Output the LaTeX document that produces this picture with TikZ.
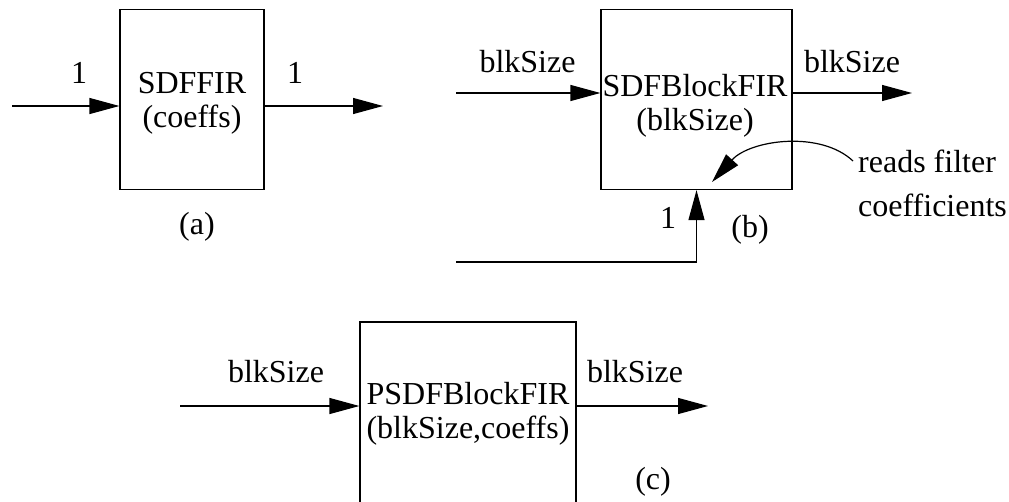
\documentclass[tikz,border=0pt]{standalone}
\usepackage{fontspec}
\setmainfont{Liberation Serif}
\usetikzlibrary{arrows.meta}
\tikzset{
  blkbox/.style={draw=black, line width=1.2pt, inner sep=0pt},
  flow/.style={draw=black, line width=1.2pt, -{Triangle[length=30pt,width=16pt]}},
}
\begin{document}
\begin{tikzpicture}[x=1pt,y=-1pt,font=\fontsize{32}{34}\selectfont]
\tikzstyle{every node}+=[inner sep=0pt]
\useasboundingbox (0,0) rectangle (1009,501);
\clip (0,0) rectangle (1009,501);
%(a)
\node [blkbox, minimum width=144pt, minimum height=180pt] (sdffir) at (192,99.5) {};
\node [align=center] (sdffirtxt) at (192,103.5) {SDFFIR\\(coeffs)};
\coordinate (ainsrc) at (12,106);
\coordinate (aoutdst) at (383,106);
\draw [flow] (ainsrc) -- (ainsrc -| sdffir.west);
\draw [flow] (ainsrc -| sdffir.east) -- (aoutdst);
\node (ainrate) at (79,73) {1};
\node (aoutrate) at (295,73) {1};
\node (alabel) at (197,227) {(a)};
%(b)
\node [blkbox, minimum width=191pt, minimum height=180pt] (sdfblk) at (696.5,99.5) {};
\node [align=center] (sdfblktxt) at (695,106) {SDFBlockFIR\\(blkSize)};
\coordinate (binsrc) at (456,93);
\coordinate (boutdst) at (912,93);
\coordinate (bcoefsrc) at (456,262);
\draw [flow] (binsrc) -- (binsrc -| sdfblk.west);
\draw [flow] (binsrc -| sdfblk.east) -- (boutdst);
\draw [flow] (bcoefsrc) -| (sdfblk.south);
\node (binrate) at (527.5,62) {blkSize};
\node (boutrate) at (852,62) {blkSize};
\node (bcoefrate) at (668,218) {1};
\node (blabel) at (750,230) {(b)};
\node [anchor=west] (readsa) at (858,161) {reads filter};
\node [anchor=west] (readsb) at (858,205) {coefficients};
\coordinate (readtip) at (712,182);
\draw [flow] ([xshift=-5pt]readsa.west) .. controls (820,130) and (750,140) .. (readtip);
%(c)
\node [blkbox, minimum width=216pt, minimum height=200pt] (psdfblk) at (468,422) {};
\node [align=center] (psdfblktxt) at (468,414) {PSDFBlockFIR\\(blkSize,coeffs)};
\coordinate (cinsrc) at (180,406);
\coordinate (coutdst) at (708,406);
\draw [flow] (cinsrc) -- (cinsrc -| psdfblk.west);
\draw [flow] (cinsrc -| psdfblk.east) -- (coutdst);
\node (cinrate) at (276,372) {blkSize};
\node (coutrate) at (635,372) {blkSize};
\node (clabel) at (653,482) {(c)};
\end{tikzpicture}
\end{document}
